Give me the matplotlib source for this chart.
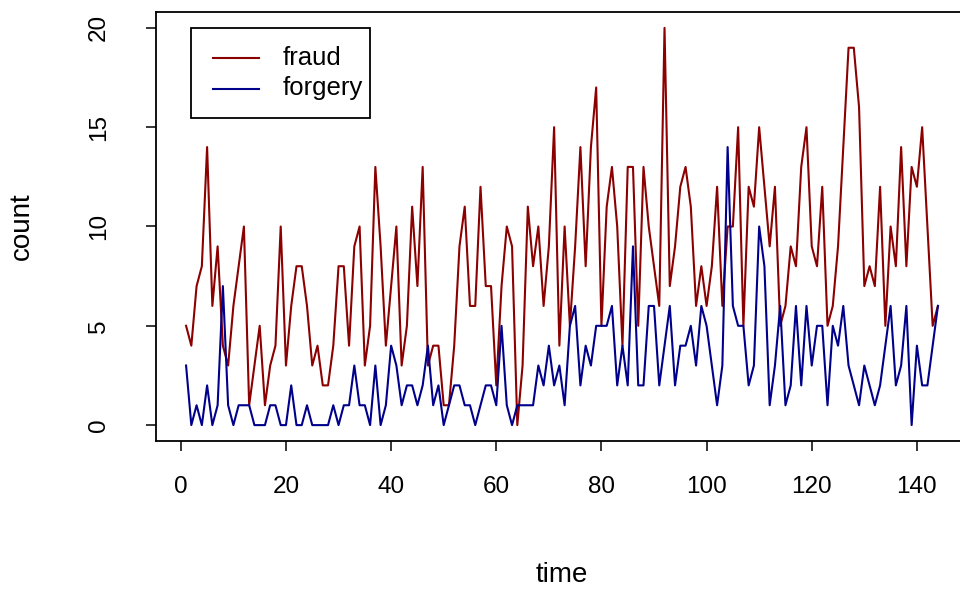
import matplotlib
matplotlib.use("Agg")
import matplotlib.pyplot as plt
from matplotlib.patches import Rectangle
from matplotlib.lines import Line2D

plt.rcParams['font.family'] = ['Liberation Sans', 'DejaVu Sans']

time = list(range(1, 145))
fraud = [5, 4, 7, 8, 14, 6, 9, 4, 3, 6, 8, 10, 1, 3, 5, 1, 3, 4, 10, 3,
         6, 8, 8, 6, 3, 4, 2, 2, 4, 8, 8, 4, 9, 10, 3, 5, 13, 9, 4, 7,
         10, 3, 5, 11, 7, 13, 3, 4, 4, 1, 1, 4, 9, 11, 6, 6, 12, 7, 7, 2,
         7, 10, 9, 0, 3, 11, 8, 10, 6, 9, 15, 4, 10, 5, 9, 14, 8, 14, 17, 5,
         11, 13, 10, 4, 13, 13, 5, 13, 10, 8, 6, 20, 7, 9, 12, 13, 11, 6, 8, 6,
         8, 12, 6, 10, 10, 15, 5, 12, 11, 15, 12, 9, 12, 5, 6, 9, 8, 13, 15, 9,
         8, 12, 5, 6, 9, 14, 19, 19, 16, 7, 8, 7, 12, 5, 10, 8, 14, 8, 13, 12,
         15, 10, 5, 6]
forgery = [3, 0, 1, 0, 2, 0, 1, 7, 1, 0, 1, 1, 1, 0, 0, 0, 1, 1, 0, 0,
           2, 0, 0, 1, 0, 0, 0, 0, 1, 0, 1, 1, 3, 1, 1, 0, 3, 0, 1, 4,
           3, 1, 2, 2, 1, 2, 4, 1, 2, 0, 1, 2, 2, 1, 1, 0, 1, 2, 2, 1,
           5, 1, 0, 1, 1, 1, 1, 3, 2, 4, 2, 3, 1, 5, 6, 2, 4, 3, 5, 5,
           5, 6, 2, 4, 2, 9, 2, 2, 6, 6, 2, 4, 6, 2, 4, 4, 5, 3, 6, 5,
           3, 1, 3, 14, 6, 5, 5, 2, 3, 10, 8, 1, 3, 6, 1, 2, 6, 2, 6, 3,
           5, 5, 1, 5, 4, 6, 3, 2, 1, 3, 2, 1, 2, 4, 6, 2, 3, 6, 0, 4,
           2, 2, 4, 6]
series_names = ["fraud", "forgery"]
series_colors = ["#8B0000", "#00008B"]
xticks = [0, 20, 40, 60, 80, 100, 120, 140]
yticks = [0, 5, 10, 15, 20]

W, H = 960, 592
fig = plt.figure(figsize=(W / 100, H / 100), dpi=100)
L, R, T, B = 156, 968, 12, 441
ax = fig.add_axes([L / W, (H - B) / H, (R - L) / W, (B - T) / H])

ax.plot(time, fraud, color=series_colors[0], lw=1.5)
ax.plot(time, forgery, color=series_colors[1], lw=1.5)

ax.set_xlim(1 - 0.04 * 143, 144 + 0.04 * 143)
ax.set_ylim(-0.8, 20.8)
ax.set_xticks(xticks)
ax.set_yticks(yticks)
ax.set_xticklabels([str(v) for v in xticks])
ax.set_yticklabels([str(v) for v in yticks])
fs = 17.5
ax.tick_params(axis='both', direction='out', length=7, width=1.1, labelsize=fs, color='black')
ax.tick_params(axis='x', pad=18.5)
ax.tick_params(axis='y', pad=26)
for lab in ax.get_yticklabels():
    lab.set_rotation(90)
    lab.set_va('center')
for s in ax.spines.values():
    s.set_linewidth(1.3)
    s.set_color('black')

fig.text(562 / W, 1 - 575 / H, 'time', ha='center', va='center', fontsize=20)
fig.text(22 / W, 1 - 226 / H, 'count', ha='center', va='center', rotation=90, fontsize=20)

# legend box (drawn manually to match R's layout)
tf = fig.transFigure
fig.patches.append(Rectangle((191 / W, 1 - 118 / H), (370 - 191) / W, (118 - 28) / H,
                             transform=tf, fill=False, edgecolor='black', lw=1.3))
for i, (name, col) in enumerate(zip(series_names, series_colors)):
    yy = 1 - (58 + 30.5 * i) / H
    fig.lines.append(Line2D([213 / W, 259 / W], [yy, yy], transform=tf, color=col, lw=1.5))
    fig.text(283 / W, yy, name, ha='left', va='center', fontsize=18.5)

fig.savefig('out.png', dpi=100)
